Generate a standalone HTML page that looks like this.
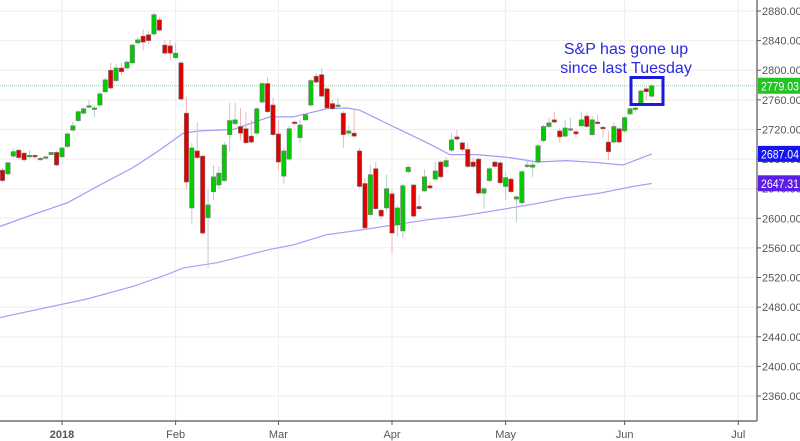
<!DOCTYPE html>
<html><head><meta charset="utf-8">
<style>
html,body{margin:0;padding:0;background:#fff;}
svg{display:block;font-family:"Liberation Sans",sans-serif;}
</style></head>
<body>
<svg id="chart" width="800" height="441" viewBox="0 0 800 441"></svg>
<script>
// data: trading-day index (0 = Jan 2 2018), open, high, low, close
const candleIdx = [-11,-10,-9,-8,-7,-6,-5,-4,-3,-2,-1,0,1,2,3,4,5,6,7,8,9,10,11,12,13,14,15,16,17,18,19,20,21,22,23,24,25,26,27,28,29,30,31,32,33,34,35,36,37,38,39,40,41,42,43,44,45,46,47,48,49,50,51,52,53,54,55,56,57,58,59,60,61,62,63,64,65,66,67,68,69,70,71,72,73,74,75,76,77,78,79,80,81,82,83,84,85,86,87,88,89,90,91,92,93,94,95,96,97,98,99,100,101,102,103,104,105,106,107,108,109];
const opens = [2665,2660,2684,2692,2688,2684,2685,2679,2682,2686,2689,2683,2697,2719,2732,2742,2751,2747,2753,2771,2800,2786,2803,2803,2810,2837,2846,2848,2849,2868,2834,2833,2817,2810,2742,2614,2691,2684,2601,2636,2645,2651,2713,2728,2724,2721,2711,2715,2757,2782,2753,2714,2657,2680,2730,2709,2733,2753,2792,2794,2775,2755,2752,2742,2715,2715,2691,2647,2605,2667,2611,2614,2633,2591,2583,2663,2645,2616,2637,2644,2653,2676,2670,2692,2710,2702,2693,2676,2680,2634,2651,2676,2675,2643,2653,2626,2621,2670,2669,2676,2705,2724,2733,2718,2711,2719,2717,2725,2738,2713,2730,2723,2703,2703,2721,2718,2741,2748,2755,2775,2765];
const highs = [2668,2677,2695,2694,2690,2692,2687,2683,2685,2690,2691,2697,2716,2730,2746,2750,2760,2751,2770,2790,2810,2809,2810,2814,2836,2845,2855,2853,2878,2872,2841,2841,2837,2812,2764,2702,2729,2686,2639,2672,2670,2703,2756,2756,2749,2744,2733,2750,2784,2791,2763,2733,2695,2725,2732,2733,2742,2788,2796,2803,2777,2760,2763,2745,2726,2746,2695,2655,2672,2676,2613,2659,2639,2618,2647,2672,2647,2632,2666,2649,2676,2678,2683,2715,2720,2704,2702,2682,2682,2642,2669,2678,2677,2663,2655,2631,2665,2679,2676,2700,2726,2736,2744,2722,2733,2736,2719,2744,2742,2738,2740,2725,2718,2730,2723,2738,2750,2751,2774,2778,2781];
const lows = [2648,2658,2682,2680,2676,2682,2680,2678,2681,2685,2670,2681,2695,2718,2730,2740,2749,2737,2751,2769,2774,2784,2793,2800,2808,2835,2827,2835,2847,2852,2821,2814,2815,2759,2639,2593,2680,2578,2533,2625,2640,2649,2690,2725,2706,2700,2701,2713,2755,2742,2711,2665,2647,2678,2726,2702,2731,2751,2782,2763,2747,2746,2750,2695,2710,2709,2641,2585,2602,2611,2598,2609,2553,2575,2574,2660,2601,2610,2635,2639,2651,2654,2668,2690,2705,2690,2668,2667,2632,2613,2649,2667,2646,2625,2634,2595,2619,2668,2656,2674,2703,2722,2728,2702,2709,2717,2709,2723,2722,2711,2726,2709,2679,2701,2701,2716,2739,2744,2753,2760,2763];
const closes = [2651,2675,2690,2682,2679,2685,2683,2681,2683,2689,2672,2695,2714,2725,2744,2748,2752,2749,2768,2787,2776,2803,2798,2811,2834,2841,2838,2840,2875,2854,2823,2823,2823,2761,2649,2695,2682,2580,2618,2656,2661,2699,2732,2733,2715,2702,2703,2748,2782,2744,2713,2676,2691,2721,2728,2726,2740,2786,2784,2765,2749,2748,2753,2713,2718,2711,2643,2587,2659,2613,2603,2640,2580,2614,2644,2669,2603,2613,2656,2641,2664,2656,2678,2706,2707,2693,2670,2670,2634,2640,2667,2670,2648,2655,2636,2629,2663,2672,2672,2698,2724,2729,2730,2710,2722,2721,2714,2733,2724,2733,2728,2721,2690,2724,2703,2736,2748,2749,2772,2771,2779];
// moving averages (sampled)
const ma50Idx = [-11.5,-5.4,1,7,13,17.6,22.4,25.5,31.6,38.4,42.7,49,52.7,55,61.2,67.5,71.7,76.7,82.8,87.8,93.3,99.4,103.7,109];
const ma50Val = [2589,2605,2621,2645,2668,2690,2715,2718,2720,2737,2737,2748,2749,2746,2724,2702,2686,2686,2682,2676,2678,2675,2672,2687];
const ma200Idx = [-11.5,4.6,13.1,19.4,22.4,28.7,38.4,42.7,49,55,61.2,67.5,73.6,79.7,87.8,93.3,99.4,105.5,109];
const ma200Val = [2466,2491,2508,2524,2533,2540,2558,2564,2578,2584,2591,2598,2603,2610,2620,2628,2634,2643,2647];
const yTicks = [2360,2400,2440,2480,2520,2560,2600,2640,2680,2720,2760,2800,2840,2880];
const monthLabels = ["2018","Feb","Mar","Apr","May","Jun","Jul"];
const monthIdx = [0,21,40,61,82,104,125];
const lastClose = 2779.03, ma50Last = 2687.04, ma200Last = 2647.31;

const NS = "http://www.w3.org/2000/svg";
const svg = document.getElementById("chart");
const AXX = 757;
const X = i => 62 + i * 5.41;
const Y = p => 11 + (2880 - p) * 0.7404;
function el(tag, attrs, parent) {
  const e = document.createElementNS(NS, tag);
  for (const k in attrs) e.setAttribute(k, attrs[k]);
  (parent || svg).appendChild(e);
  return e;
}
yTicks.forEach(v => {
  const g = el("line", {x1:0, x2:AXX, y1:Y(v), y2:Y(v), stroke:"#eeeeee", "stroke-width":1});
  
  
});
monthIdx.forEach(m => {
  const g = el("line", {x1:X(m), x2:X(m), y1:0, y2:421, stroke:"#eeeeee", "stroke-width":1});
  
  
});
const lp = el("line", {x1:0, x2:AXX, y1:Y(lastClose), y2:Y(lastClose), stroke:"#7ee07e", "stroke-width":1, "stroke-dasharray":"1,1"});


function maPath(idx, val, color, name) {
  const d = idx.map((i, k) => (k ? "L" : "M") + X(i).toFixed(1) + "," + Y(val[k]).toFixed(1)).join(" ");
  const p = el("path", {d:d, fill:"none", stroke:color, "stroke-width":1.2});
  
  
}
maPath(ma200Idx, ma200Val, "#b09cf7", "ma200-line");
maPath(ma50Idx, ma50Val, "#9c9cf7", "ma50-line");
candleIdx.forEach((i, k) => {
  const o = opens[k], c = closes[k], h = highs[k], l = lows[k];
  const up = c >= o;
  const x = X(i);
  const w = el("line", {x1:x, x2:x, y1:Y(h), y2:Y(l), stroke: up ? "#b8cdd3" : "#f3b3b8", "stroke-width":1});
  
  
  const top = Y(Math.max(o, c)), bot = Y(Math.min(o, c));
  const b = el("rect", {x:x - 2.2, y:top, width:4.4, height:Math.max(1.5, bot - top), fill: up ? "#00cc00" : "#e00000", stroke:"#777", "stroke-width":0.6});
  
  
});
const ax = el("line", {x1:AXX, x2:AXX, y1:0, y2:421, stroke:"#555", "stroke-width":1.2});


const bx = el("line", {x1:0, x2:AXX, y1:421, y2:421, stroke:"#555", "stroke-width":1.2});


yTicks.forEach(v => {
  const t = el("line", {x1:AXX, x2:AXX + 4, y1:Y(v), y2:Y(v), stroke:"#555"});
  
  
  const tx = el("text", {x:AXX + 5, y:Y(v) + 4, "font-size":11, fill:"#555"});
  tx.textContent = v.toFixed(2);
  
  
});
monthIdx.forEach((m, k) => {
  const t = el("line", {x1:X(m), x2:X(m), y1:421, y2:425, stroke:"#555"});
  
  
  const tx = el("text", {x:X(m), y:438, "font-size":11, fill:"#555", "text-anchor":"middle", "font-weight": k === 0 ? "bold" : "normal"});
  tx.textContent = monthLabels[k];
  
  
});
function tag(v, color, name) {
  const r = el("rect", {x:AXX + 1, y:Y(v) - 8, width:800 - AXX - 1, height:16, fill:color});
  
  
  const t = el("text", {x:AXX + 4, y:Y(v) + 4.5, "font-size":11.5, fill:"#fff", textLength:38, lengthAdjust:"spacingAndGlyphs"});
  t.textContent = v.toFixed(2);
  
  
}
tag(ma200Last, "#5a1ee6", "ma200-price-tag");
tag(ma50Last, "#1414f0", "ma50-price-tag");
tag(lastClose, "#22c322", "last-price-tag");
</script>
<svg style="position:absolute;left:0;top:0" width="800" height="441">
  <text x="626" y="54" font-family="Liberation Sans, sans-serif" font-size="16" fill="#2a2ae0" text-anchor="middle">S&amp;P has gone up</text>
  <text x="626" y="73" font-family="Liberation Sans, sans-serif" font-size="16" fill="#2a2ae0" text-anchor="middle">since last Tuesday</text>
  <rect x="631" y="77.5" width="32" height="27" fill="none" stroke="#1a1ad8" stroke-width="3"/>
</svg>
</body></html>
